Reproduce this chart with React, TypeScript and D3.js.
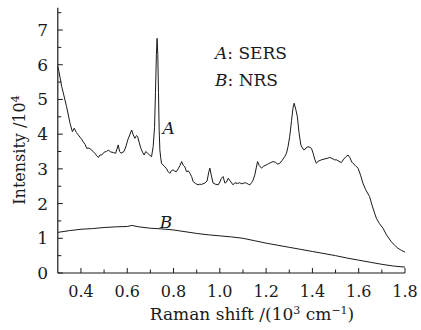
import React, { useEffect, useRef } from "react";
import * as d3 from "d3";

// curve A: SERS (Raman shift in 10^3 cm-1, intensity in 10^4)
const sersShift = [
  0.3, 0.305, 0.317, 0.338, 0.353, 0.363, 0.371, 0.38, 0.388, 0.4, 0.41, 0.418, 0.425, 0.435, 0.446, 0.453,
  0.46, 0.468, 0.475, 0.482, 0.49, 0.5, 0.51, 0.518, 0.528, 0.54, 0.55, 0.561, 0.567, 0.573, 0.586, 0.595,
  0.602, 0.612, 0.619, 0.626, 0.633, 0.64, 0.645, 0.652, 0.659, 0.666, 0.673, 0.68, 0.688, 0.696, 0.705,
  0.712, 0.718, 0.722, 0.726, 0.729, 0.732, 0.735, 0.738, 0.741, 0.745, 0.748, 0.755, 0.763, 0.77, 0.777,
  0.784, 0.791, 0.798, 0.806, 0.813, 0.82, 0.828, 0.835, 0.842, 0.849, 0.856, 0.864, 0.871, 0.878, 0.885,
  0.895, 0.906, 0.914, 0.92, 0.935, 0.945, 0.952, 0.957, 0.962, 0.971, 0.98, 0.993, 1.0, 1.007, 1.014, 1.022,
  1.029, 1.036, 1.045, 1.057, 1.065, 1.075, 1.086, 1.095, 1.108, 1.115, 1.125, 1.13, 1.137, 1.144, 1.151,
  1.158, 1.163, 1.17, 1.18, 1.19, 1.2, 1.21, 1.22, 1.23, 1.24, 1.25, 1.259, 1.27, 1.28, 1.288, 1.295, 1.302,
  1.31, 1.316, 1.321, 1.328, 1.335, 1.342, 1.35, 1.357, 1.364, 1.372, 1.381, 1.39, 1.396, 1.403, 1.41, 1.417,
  1.425, 1.439, 1.45, 1.467, 1.475, 1.485, 1.496, 1.504, 1.515, 1.525, 1.535, 1.545, 1.554, 1.562, 1.57,
  1.575, 1.585, 1.597, 1.608, 1.618, 1.63, 1.647, 1.66, 1.676, 1.69, 1.705, 1.72, 1.741, 1.755, 1.77, 1.785, 1.8,
];
const sersIntensity = [
  5.95, 5.8, 5.37, 4.79, 4.31, 4.07, 4.17, 4.05, 3.98, 3.88, 3.78, 3.7, 3.59, 3.6, 3.54, 3.5,
  3.45, 3.38, 3.33, 3.4, 3.4, 3.48, 3.5, 3.54, 3.49, 3.47, 3.45, 3.69, 3.5, 3.45, 3.5, 3.66,
  3.83, 4.0, 4.12, 3.98, 3.88, 3.96, 3.93, 3.75, 3.59, 3.48, 3.4, 3.5, 3.45, 3.4, 3.35,
  3.64, 4.2, 5.2, 6.3, 6.76, 6.3, 5.2, 4.1, 3.54, 3.3, 3.16, 3.11, 3.06, 3.0, 2.92,
  2.87, 2.95, 2.97, 2.93, 2.92, 3.0, 3.1, 3.21, 3.1, 3.06, 2.92, 2.94, 2.87, 2.78, 2.63,
  2.58, 2.54, 2.56, 2.55, 2.59, 2.65, 2.9, 3.02, 2.85, 2.59, 2.56, 2.54, 2.62, 2.73, 2.78, 2.59,
  2.62, 2.73, 2.65, 2.54, 2.6, 2.58, 2.6, 2.57, 2.6, 2.59, 2.55, 2.54, 2.6, 2.68, 2.82,
  3.05, 3.21, 3.1, 3.02, 3.08, 3.11, 3.15, 3.18, 3.21, 3.19, 3.14, 3.16, 3.25, 3.35, 3.45, 3.65, 3.93,
  4.4, 4.75, 4.89, 4.72, 4.5, 4.05, 3.69, 3.6, 3.54, 3.6, 3.64, 3.62, 3.59, 3.45, 3.28, 3.16,
  3.22, 3.26, 3.28, 3.31, 3.33, 3.3, 3.26, 3.26, 3.22, 3.18, 3.28, 3.35, 3.4, 3.32, 3.2,
  3.16, 3.1, 3.02, 2.82, 2.59, 2.4, 2.2, 1.9, 1.58, 1.42, 1.29, 1.1, 0.9, 0.8, 0.71, 0.65, 0.6,
];

// curve B: NRS
const nrsShift = [
  0.3, 0.35, 0.4, 0.45, 0.5, 0.55, 0.6, 0.62, 0.65, 0.7, 0.75, 0.8, 0.85, 0.9, 0.95, 1.0, 1.05, 1.1,
  1.15, 1.2, 1.25, 1.3, 1.35, 1.4, 1.45, 1.5, 1.55, 1.6, 1.65, 1.7, 1.75, 1.8,
];
const nrsIntensity = [
  1.17, 1.22, 1.26, 1.28, 1.31, 1.33, 1.34, 1.37, 1.33, 1.29, 1.27, 1.24, 1.19, 1.14, 1.1, 1.07, 1.04, 1.0,
  0.93, 0.86, 0.8, 0.74, 0.68, 0.62, 0.56, 0.5, 0.43, 0.37, 0.31, 0.25, 0.2, 0.17,
];

const xMajor = [0.4, 0.6, 0.8, 1.0, 1.2, 1.4, 1.6, 1.8];
const xMinor = [0.5, 0.7, 0.9, 1.1, 1.3, 1.5, 1.7];
const yMajor = [0, 1, 2, 3, 4, 5, 6, 7];
const yMinor = [0.5, 1.5, 2.5, 3.5, 4.5, 5.5, 6.5, 7.5];

const FONT = "'DejaVu Serif', 'Liberation Serif', serif";
const INK = "#1a1a1a";

const App = () => {
  const svgRef = useRef<SVGSVGElement | null>(null);

  useEffect(() => {
    const svg = d3.select(svgRef.current);
    svg.selectAll("*").remove();

    const x = d3.scaleLinear().domain([0.3, 1.8]).range([57.8, 405]);
    const y = d3.scaleLinear().domain([0, 7.64]).range([273, 7.8]);

    svg.append("rect").attr("width", 421).attr("height", 330).attr("fill", "#fff");

    // axes lines
    svg.append("line")
      .attr("x1", x(0.3)).attr("x2", x(1.8))
      .attr("y1", y(0)).attr("y2", y(0))
      .attr("stroke", INK).attr("stroke-width", 1.2);
    svg.append("line")
      .attr("x1", x(0.3)).attr("x2", x(0.3))
      .attr("y1", y(0)).attr("y2", y(7.64))
      .attr("stroke", INK).attr("stroke-width", 1.2);

    // x ticks (pointing inward)
    const xt = svg.append("g").attr("stroke", INK).attr("stroke-width", 1);
    xt.selectAll(".maj").data(xMajor).enter().append("line")
      .attr("x1", (d) => x(d)).attr("x2", (d) => x(d))
      .attr("y1", y(0)).attr("y2", y(0) - 5);
    xt.selectAll(".min").data(xMinor).enter().append("line")
      .attr("x1", (d) => x(d)).attr("x2", (d) => x(d))
      .attr("y1", y(0)).attr("y2", y(0) - 3.5);

    svg.append("g").selectAll("text").data(xMajor).enter().append("text")
      .attr("x", (d) => x(d)).attr("y", 297)
      .attr("text-anchor", "middle")
      .style("font-family", FONT).style("font-size", "16px").attr("fill", INK)
      .text((d) => d.toFixed(1));

    // y ticks
    const yt = svg.append("g").attr("stroke", INK).attr("stroke-width", 1);
    yt.selectAll(".maj").data(yMajor).enter().append("line")
      .attr("x1", x(0.3)).attr("x2", x(0.3) + 5)
      .attr("y1", (d) => y(d)).attr("y2", (d) => y(d));
    yt.selectAll(".min").data(yMinor).enter().append("line")
      .attr("x1", x(0.3)).attr("x2", x(0.3) + 3.5)
      .attr("y1", (d) => y(d)).attr("y2", (d) => y(d));

    svg.append("g").selectAll("text").data(yMajor).enter().append("text")
      .attr("x", 48).attr("y", (d) => y(d) + 6)
      .attr("text-anchor", "end")
      .style("font-family", FONT).style("font-size", "17px").attr("fill", INK)
      .text((d) => String(d));

    // curves
    const line = d3.line<[number, number]>()
      .x((d) => x(d[0]))
      .y((d) => y(d[1]));

    const sers = sersShift.map((s, i) => [s, sersIntensity[i]] as [number, number]);
    const nrs = nrsShift.map((s, i) => [s, nrsIntensity[i]] as [number, number]);

    svg.append("path").datum(sers)
      .attr("fill", "none").attr("stroke", INK).attr("stroke-width", 1)
      .attr("stroke-linejoin", "round")
      .attr("d", line);
    svg.append("path").datum(nrs)
      .attr("fill", "none").attr("stroke", INK).attr("stroke-width", 1)
      .attr("d", line);

    // curve labels
    svg.append("text").attr("x", x(0.752)).attr("y", y(4.0))
      .style("font-family", FONT).style("font-size", "17px").style("font-style", "italic")
      .attr("fill", INK).text("A");
    svg.append("text").attr("x", x(0.74)).attr("y", y(1.3))
      .style("font-family", FONT).style("font-size", "17px").style("font-style", "italic")
      .attr("fill", INK).text("B");

    // legend
    const leg = svg.append("g").style("font-family", FONT).style("font-size", "17px").attr("fill", INK);
    const l1 = leg.append("text").attr("x", 215).attr("y", 59);
    l1.append("tspan").style("font-style", "italic").text("A");
    l1.append("tspan").text(": SERS");
    const l2 = leg.append("text").attr("x", 215).attr("y", 86);
    l2.append("tspan").style("font-style", "italic").text("B");
    l2.append("tspan").text(": NRS");

    // axis titles
    const xl = svg.append("text").attr("x", 252).attr("y", 320)
      .attr("text-anchor", "middle")
      .style("font-family", FONT).style("font-size", "17px").attr("fill", INK);
    xl.append("tspan").text("Raman shift /(10");
    xl.append("tspan").attr("dy", -6).style("font-size", "11px").text("3");
    xl.append("tspan").attr("dy", 6).text(" cm");
    xl.append("tspan").attr("dy", -6).style("font-size", "11px").text("−1");
    xl.append("tspan").attr("dy", 6).text(")");

    const yl = svg.append("text")
      .attr("transform", "translate(25,150) rotate(-90)")
      .attr("text-anchor", "middle")
      .style("font-family", FONT).style("font-size", "16px").attr("fill", INK);
    yl.append("tspan").text("Intensity /10");
    yl.append("tspan").attr("dy", -6).style("font-size", "11px").text("4");
  }, []);

  return (
    <svg
      ref={svgRef}
      width={421}
      height={330}
      style={{ position: "absolute", left: 0, top: 0, display: "block" }}
    />
  );
};

export default App;
